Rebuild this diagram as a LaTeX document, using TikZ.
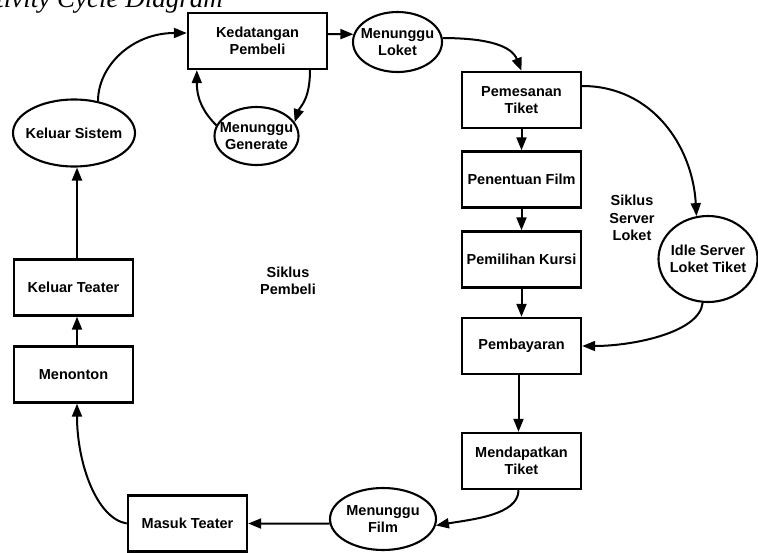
\documentclass[tikz,border=0pt]{standalone}
\usepackage{fontspec}
\setmainfont{Liberation Sans}
\newfontfamily\titlefont{Liberation Serif}
\usetikzlibrary{arrows.meta,shapes.geometric,calc}
\newcommand\zbox[1]{\smash{\makebox[0pt]{\raisebox{-5.3pt}{\begin{tabular}{@{}c@{}}#1\end{tabular}}}}}
\begin{document}
\begin{tikzpicture}[x=1pt,y=-1pt,
  every node/.style={font=\fontsize{14.5}{17.5}\selectfont\bfseries, align=center},
  box/.style={draw, line width=2.4pt, rectangle, minimum width=119pt, minimum height=56pt, inner sep=0pt},
  oval/.style={draw, ellipse, line width=2.1pt, inner sep=0pt},
  flow/.style={line width=2pt, -{Triangle[length=13pt,width=10pt]}},
  lbl/.style={inner sep=0pt}
]
\useasboundingbox (0,0) rectangle (758,552);
\begin{scope}
\clip (0,0) rectangle (758,552);
\node[anchor=base east, inner sep=0pt, font=\titlefont\itshape\fontsize{27}{30}\selectfont] (title) at (223,7) {Activity Cycle Diagram};
\end{scope}

% nodes
\node[box, minimum width=139pt] (ked) at (257.5,41) {Kedatangan\\Pembeli};
\node[oval, minimum width=89pt, minimum height=60pt] (mlok) at (397.5,42) {\zbox{Menunggu\\Loket}};
\node[oval, minimum width=84pt, minimum height=58pt] (mgen) at (256.5,136) {\zbox{Menunggu\\Generate}};
\node[oval, minimum width=122pt, minimum height=67pt] (ksis) at (74,133) {\zbox{Keluar Sistem}};
\node[box] (pem) at (521.5,100) {Pemesanan\\Tiket};
\node[box] (pen) at (521.5,179.5) {Penentuan Film};
\node[box] (pil) at (521.5,259.5) {Pemilihan Kursi};
\node[box] (bay) at (521.5,346) {Pembayaran};
\node[box] (dap) at (521.5,461) {Mendapatkan\\Tiket};
\node[oval, minimum width=99pt, minimum height=86pt] (idle) at (708,259) {\zbox{Idle Server\\Loket Tiket}};
\node[oval, minimum width=106pt, minimum height=62pt] (mfilm) at (383,519) {\zbox{Menunggu\\Film}};
\node[box] (masuk) at (187.5,523.5) {Masuk Teater};
\node[box] (nonton) at (73.5,374.5) {Menonton};
\node[box] (kteater) at (73.5,287.5) {Keluar Teater};
\node[lbl] (spem) at (288,281) {Siklus\\Pembeli};
\node[lbl] (sserv) at (632,218) {Siklus\\Server\\Loket};

% connectors
\draw[flow] ($(ked.east)+(0,-7)$) -- (mlok.170);
\draw[flow] (mlok.5) .. controls +(45,0) and +(-10,-25) .. (pem.north);
\draw[flow] ($(pem.east)+(0,-14)$) .. controls +(70,0) and +(-4,-70) .. (idle.105);
\draw[flow] (pem.south) -- (pen.north);
\draw[flow] (pen.south) -- (pil.north);
\draw[flow] (pil.south) -- (bay.north);
\draw[flow] (idle.263) .. controls +(-3,30) and +(50,0) .. (bay.east);
\draw[flow] ($(bay.south)+(-3,0)$) -- ($(dap.north)+(-3,0)$);
\draw[flow] ($(dap.south)+(-3,0)$) .. controls +(0,25) and +(35,-6) .. (mfilm.-7);
\draw[flow] (mfilm.185) -- (masuk.east);
\draw[flow] (masuk.west) .. controls +(-30,-5) and +(0,60) .. ($(nonton.south)+(3.5,0)$);
\draw[flow] ($(nonton.north)+(3.5,0)$) -- ($(kteater.south)+(3.5,0)$);
\draw[flow] ($(kteater.north)+(3.5,0)$) -- ($(ksis.south)+(3,0)$);
\draw[flow] (ksis.53) .. controls +(0,-35) and +(-55,0) .. ($(ked.west)+(0,-8)$);
\draw[flow] ($(ked.south)+(52.5,0)$) .. controls +(0,30) and +(5,-15) .. (mgen.20);
\draw[flow] (mgen.165) .. controls +(-12,-12) and +(0,30) .. ($(ked.south west)+(10,0)$);
\end{tikzpicture}
\end{document}
